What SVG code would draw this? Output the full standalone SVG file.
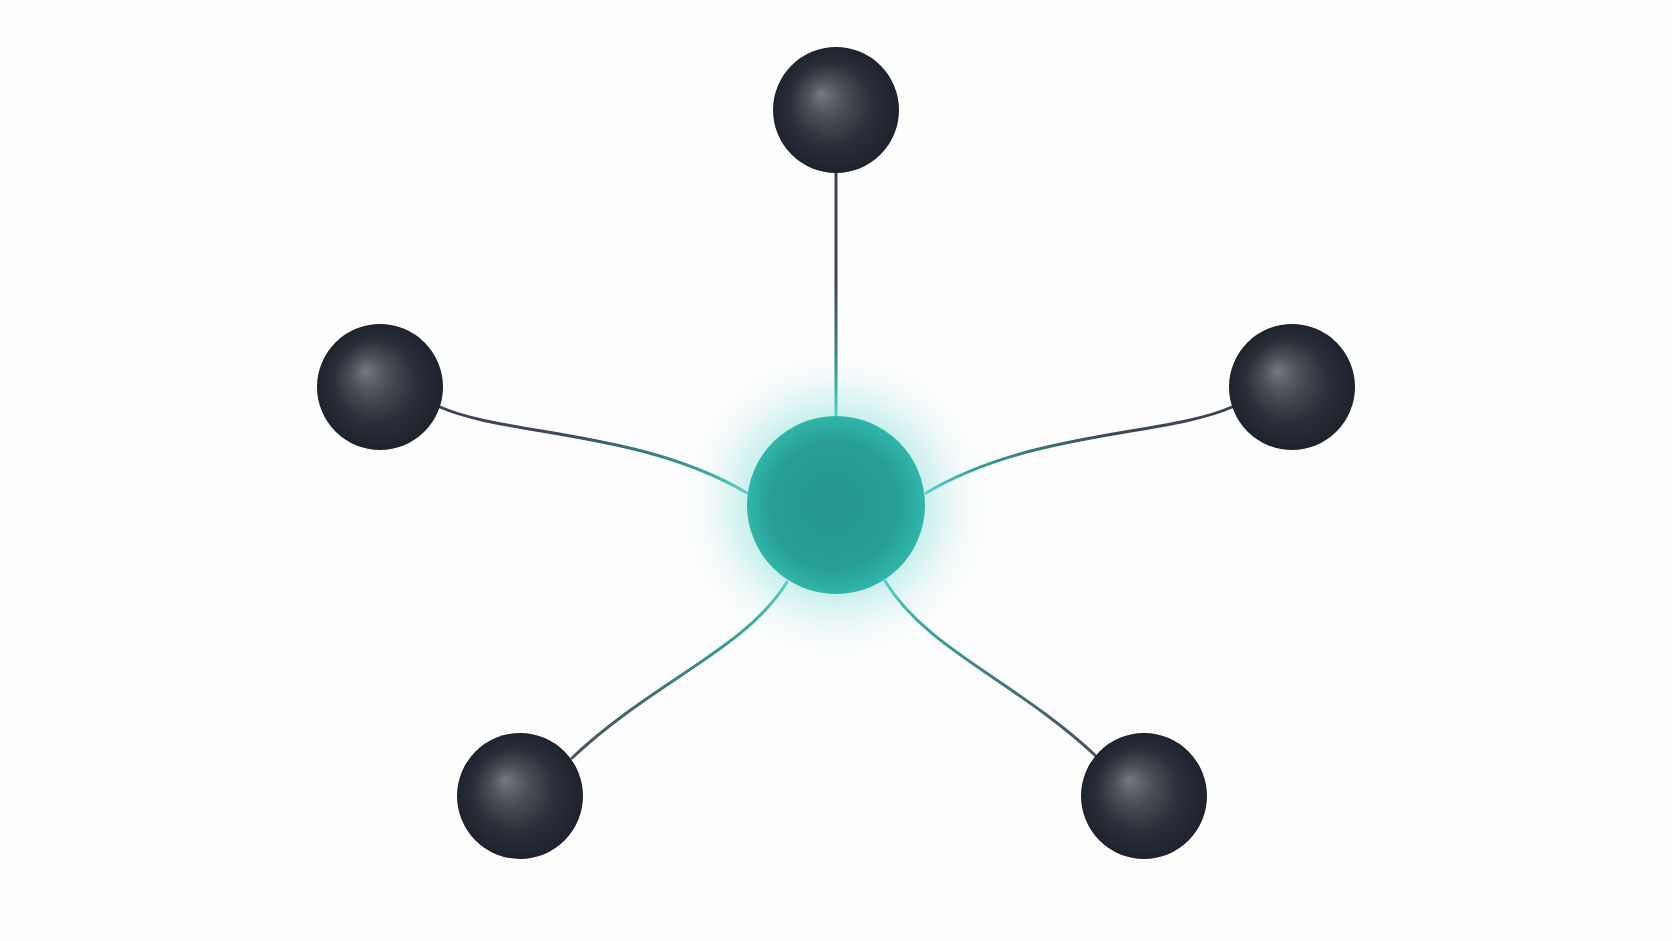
<svg xmlns="http://www.w3.org/2000/svg" width="1672" height="941" viewBox="0 0 1672 941">
<defs>
<radialGradient id="ball" cx="0.5" cy="0.5" r="0.5" fx="0.38" fy="0.37" gradientUnits="objectBoundingBox">
<stop offset="0" stop-color="#74787f"/>
<stop offset="0.3" stop-color="#4a4f58"/>
<stop offset="0.65" stop-color="#2a2f39"/>
<stop offset="1" stop-color="#1d222c"/>
</radialGradient>
<radialGradient id="hub" cx="0.5" cy="0.5" r="0.5" fx="0.45" fy="0.5">
<stop offset="0" stop-color="#259890"/>
<stop offset="0.7" stop-color="#279d94"/>
<stop offset="1" stop-color="#31b6a9"/>
</radialGradient>
<filter id="glow" x="-60%" y="-60%" width="220%" height="220%">
<feGaussianBlur stdDeviation="24"/>
</filter>
<linearGradient id="gTop" gradientUnits="userSpaceOnUse" x1="836" y1="173" x2="836" y2="416">
<stop offset="0" stop-color="#3d4451"/><stop offset="0.45" stop-color="#3d4451"/><stop offset="1" stop-color="#2fc0b0"/>
</linearGradient>
<linearGradient id="gL" gradientUnits="userSpaceOnUse" x1="440" y1="407" x2="747" y2="493">
<stop offset="0" stop-color="#3d4451"/><stop offset="0.4" stop-color="#3d4754"/><stop offset="1" stop-color="#33c2b3"/>
</linearGradient>
<linearGradient id="gR" gradientUnits="userSpaceOnUse" x1="1232" y1="407" x2="926" y2="493">
<stop offset="0" stop-color="#3d4451"/><stop offset="0.4" stop-color="#3d4754"/><stop offset="1" stop-color="#33c2b3"/>
</linearGradient>
<linearGradient id="gBL" gradientUnits="userSpaceOnUse" x1="572" y1="758" x2="787" y2="582">
<stop offset="0" stop-color="#4a525d"/><stop offset="0.35" stop-color="#3f6f72"/><stop offset="1" stop-color="#33c2b3"/>
</linearGradient>
<linearGradient id="gBR" gradientUnits="userSpaceOnUse" x1="1097" y1="757" x2="885" y2="581">
<stop offset="0" stop-color="#4a525d"/><stop offset="0.35" stop-color="#3f6f72"/><stop offset="1" stop-color="#33c2b3"/>
</linearGradient>
</defs>
<style>
.edge{fill:none;stroke-width:3;stroke-linecap:round}
.ball{fill:url(#ball)}
</style>
<rect width="1672" height="941" fill="#fdfdfd"/>
<g id="connectors">
<path class="edge" stroke="url(#gTop)" d="M836,173 L836,416"/>
<path class="edge" stroke="url(#gL)" d="M440,407 C505,436 640,430 747,493"/>
<path class="edge" stroke="url(#gR)" d="M1232,407 C1167,436 1032,430 926,493"/>
<path class="edge" stroke="url(#gBL)" d="M787,582 C745,650 655,680 572,758"/>
<path class="edge" stroke="url(#gBR)" d="M885,581 C927,650 1015,680 1097,757"/>
</g>
<g id="hub-node">
<circle cx="836" cy="505" r="108" fill="#8fe0da" opacity="0.6" filter="url(#glow)"/>
<circle cx="836" cy="505" r="89" fill="url(#hub)"/>
</g>
<g id="node-top"><circle class="ball" cx="836" cy="110" r="63"/></g>
<g id="node-left"><circle class="ball" cx="380" cy="387" r="63"/></g>
<g id="node-right"><circle class="ball" cx="1292" cy="387" r="63"/></g>
<g id="node-bottom-left"><circle class="ball" cx="520" cy="796" r="63"/></g>
<g id="node-bottom-right"><circle class="ball" cx="1144" cy="796" r="63"/></g>
</svg>
